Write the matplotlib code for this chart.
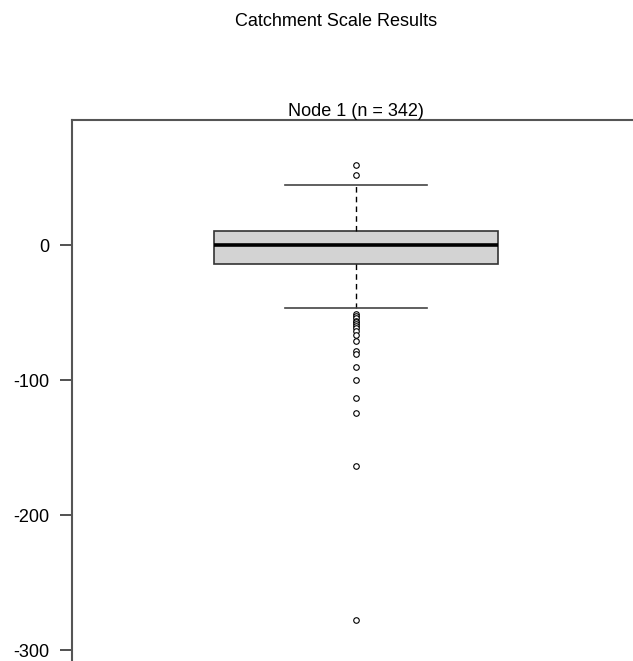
import matplotlib
matplotlib.use("Agg")
import matplotlib.pyplot as plt

plt.rcParams['font.family'] = ['Liberation Sans', 'DejaVu Sans']

# Box statistics
node_label = "Node 1 (n = 342)"
q1 = -13.8
median = 0.0
q3 = 10.4
whisker_low = -46.2
whisker_high = 44.7
outliers_high = [59.8, 52.1]
outliers_low = [-51.1, -52.6, -54.1, -55.6, -57.0, -58.5, -60.0, -61.5,
                -63.7, -66.7, -70.9, -78.3, -80.7, -89.9, -100.0, -112.8,
                -124.4, -163.5, -277.8]
y_ticks = [0, -100, -200, -300]


def main():
    fig = plt.figure(figsize=(6.33, 6.61), dpi=100)
    # axes runs past the right and bottom edges of the figure, like the reference
    ax = fig.add_axes([72 / 633, 1 - 680 / 661, 568 / 633, 560 / 661])

    stats = [{
        'med': median, 'q1': q1, 'q3': q3,
        'whislo': whisker_low, 'whishi': whisker_high,
        'fliers': outliers_high + outliers_low,
    }]
    ax.bxp(stats, positions=[1], widths=0.5, patch_artist=True,
           boxprops=dict(facecolor='#d3d3d3', edgecolor='#333333', linewidth=1.2),
           medianprops=dict(color='black', linewidth=2.6),
           whiskerprops=dict(color='black', linewidth=1.0, linestyle=(0, (4, 3))),
           capprops=dict(color='#444444', linewidth=1.2),
           capwidths=0.25,
           flierprops=dict(marker='o', markersize=4, markerfacecolor='white',
                           markeredgecolor='black', markeredgewidth=0.8))

    ax.set_xlim(0.5, 1.5)
    ax.set_ylim(-322, 93)
    ax.set_xticks([])
    ax.set_yticks(y_ticks)
    ax.set_yticklabels([str(t) for t in y_ticks])
    ax.tick_params(axis='y', length=8.5, width=1.2, color='#333333',
                   labelsize=13, pad=8)
    ax.spines['right'].set_visible(False)
    ax.spines['bottom'].set_visible(False)
    for side in ['left', 'top']:
        ax.spines[side].set_color('#555555')
        ax.spines[side].set_linewidth(1.5)

    ax.set_title(node_label, fontsize=13, pad=3)
    fig.text(0.5 * (72 + 600) / 633, 1 - 22 / 661, "Catchment Scale Results",
             ha='center', va='center', fontsize=13)

    fig.savefig("out.png", dpi=100)


if __name__ == "__main__":
    main()
